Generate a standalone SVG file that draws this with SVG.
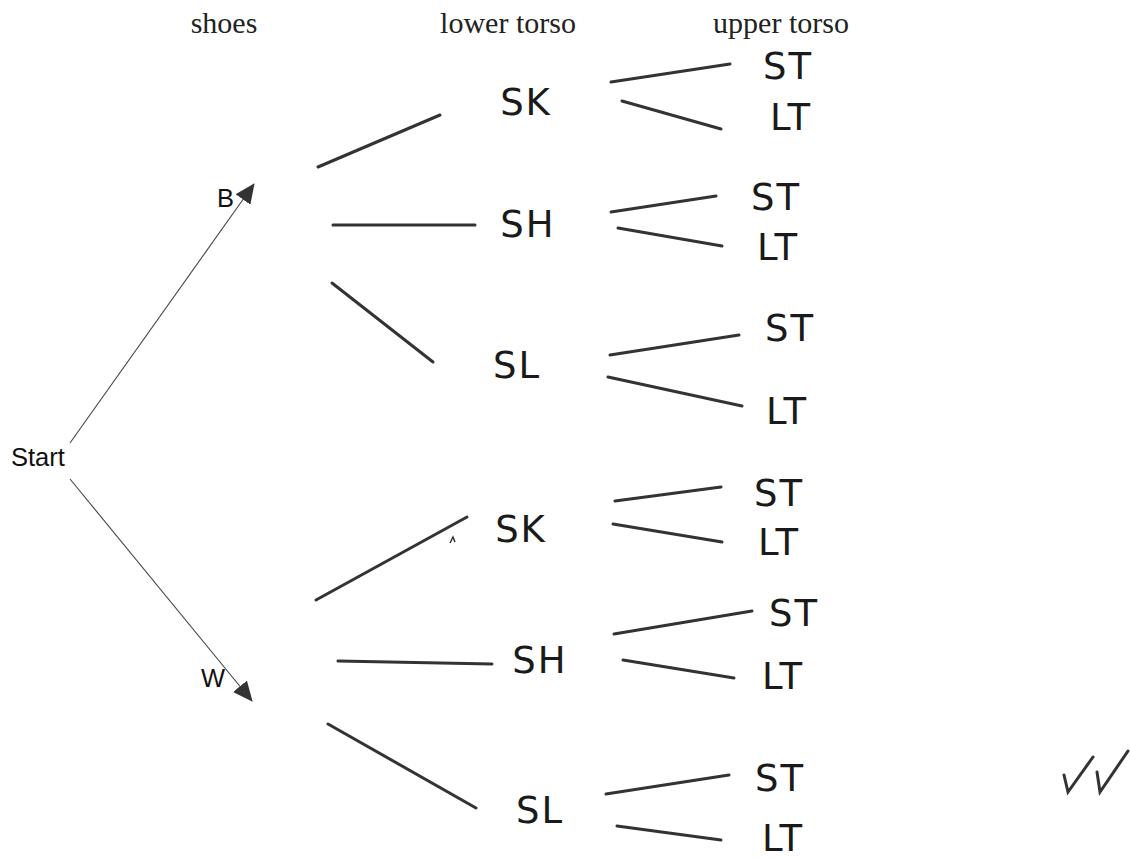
<svg xmlns="http://www.w3.org/2000/svg" width="1130" height="858" viewBox="0 0 1130 858">
<style>
.hdr{font-family:"Liberation Serif","Times New Roman",serif;font-size:30px;fill:#222;text-anchor:middle}
.lbl{font-family:"Liberation Sans",Arial,sans-serif;font-size:25.5px;fill:#111}
.hw{font-family:"DejaVu Sans","Liberation Sans",sans-serif;font-size:37px;font-weight:normal;fill:#1a1a1a;text-anchor:middle;letter-spacing:2px}
.arr{stroke:#444;stroke-width:1.1;fill:none}
.ink{stroke:#333;stroke-width:3;stroke-linecap:round;fill:none}
</style>
<defs>
<marker id="tri" markerUnits="userSpaceOnUse" markerWidth="20" markerHeight="18" viewBox="0 0 20 18" refX="19" refY="9" orient="auto">
<path d="M0,0 L20,9 L0,18 Z" fill="#333"/>
</marker>
</defs>
<rect width="1130" height="858" fill="#fff"/>
<g id="headers">
<text class="hdr" x="224" y="33">shoes</text>
<text class="hdr" x="508" y="33">lower torso</text>
<text class="hdr" x="781" y="33">upper torso</text>
</g>
<g id="connectors">
<line class="arr" x1="70" y1="443" x2="254" y2="184" marker-end="url(#tri)"/>
<line class="arr" x1="70" y1="479" x2="252" y2="701" marker-end="url(#tri)"/>
<line class="ink" x1="318" y1="167" x2="440" y2="115"/>
<line class="ink" x1="333" y1="225" x2="475" y2="225"/>
<line class="ink" x1="332" y1="283" x2="433" y2="362"/>
<line class="ink" x1="611" y1="82" x2="730" y2="64"/>
<line class="ink" x1="622" y1="101" x2="721" y2="129"/>
<line class="ink" x1="611" y1="212" x2="716" y2="196"/>
<line class="ink" x1="618" y1="228" x2="722" y2="246"/>
<line class="ink" x1="610" y1="355" x2="739" y2="335"/>
<line class="ink" x1="608" y1="377" x2="742" y2="406"/>
<line class="ink" x1="316" y1="600" x2="467" y2="517"/>
<line class="ink" x1="338" y1="661" x2="492" y2="664"/>
<line class="ink" x1="328" y1="724" x2="476" y2="808"/>
<line class="ink" x1="615" y1="501" x2="721" y2="487"/>
<line class="ink" x1="613" y1="524" x2="722" y2="542"/>
<line class="ink" x1="614" y1="634" x2="752" y2="611"/>
<line class="ink" x1="623" y1="660" x2="734" y2="678"/>
<line class="ink" x1="606" y1="794" x2="729" y2="775"/>
<line class="ink" x1="617" y1="826" x2="721" y2="840"/>
<path d="M450,543 L453,537 L455,542" stroke="#333" stroke-width="1.5" fill="none"/>
</g>
<g id="start"><text class="lbl" x="11" y="466">Start</text></g>
<g id="B"><text class="lbl" x="217" y="207">B</text></g>
<g id="W"><text class="lbl" x="201" y="687">W</text></g>
<g id="B-SK"><text class="hw" x="526" y="115">SK</text></g>
<g id="B-SH"><text class="hw" x="528" y="237">SH</text></g>
<g id="B-SL"><text class="hw" x="517" y="378">SL</text></g>
<g id="B-SK-ST"><text class="hw" x="788" y="79">ST</text></g>
<g id="B-SK-LT"><text class="hw" x="791" y="130">LT</text></g>
<g id="B-SH-ST"><text class="hw" x="776" y="210">ST</text></g>
<g id="B-SH-LT"><text class="hw" x="778" y="260">LT</text></g>
<g id="B-SL-ST"><text class="hw" x="790" y="341">ST</text></g>
<g id="B-SL-LT"><text class="hw" x="787" y="424">LT</text></g>
<g id="W-SK"><text class="hw" x="521" y="542">SK</text></g>
<g id="W-SH"><text class="hw" x="540" y="673">SH</text></g>
<g id="W-SL"><text class="hw" x="540" y="823">SL</text></g>
<g id="W-SK-ST"><text class="hw" x="779" y="506">ST</text></g>
<g id="W-SK-LT"><text class="hw" x="779" y="555">LT</text></g>
<g id="W-SH-ST"><text class="hw" x="794" y="626">ST</text></g>
<g id="W-SH-LT"><text class="hw" x="783" y="689">LT</text></g>
<g id="W-SL-ST"><text class="hw" x="780" y="791">ST</text></g>
<g id="W-SL-LT"><text class="hw" x="783" y="851">LT</text></g>
<g id="checks">
<path class="ink" d="M1064,775 L1068,792 L1093,757"/>
<path class="ink" d="M1097,772 L1100,792 L1128,751"/>
</g>
</svg>
